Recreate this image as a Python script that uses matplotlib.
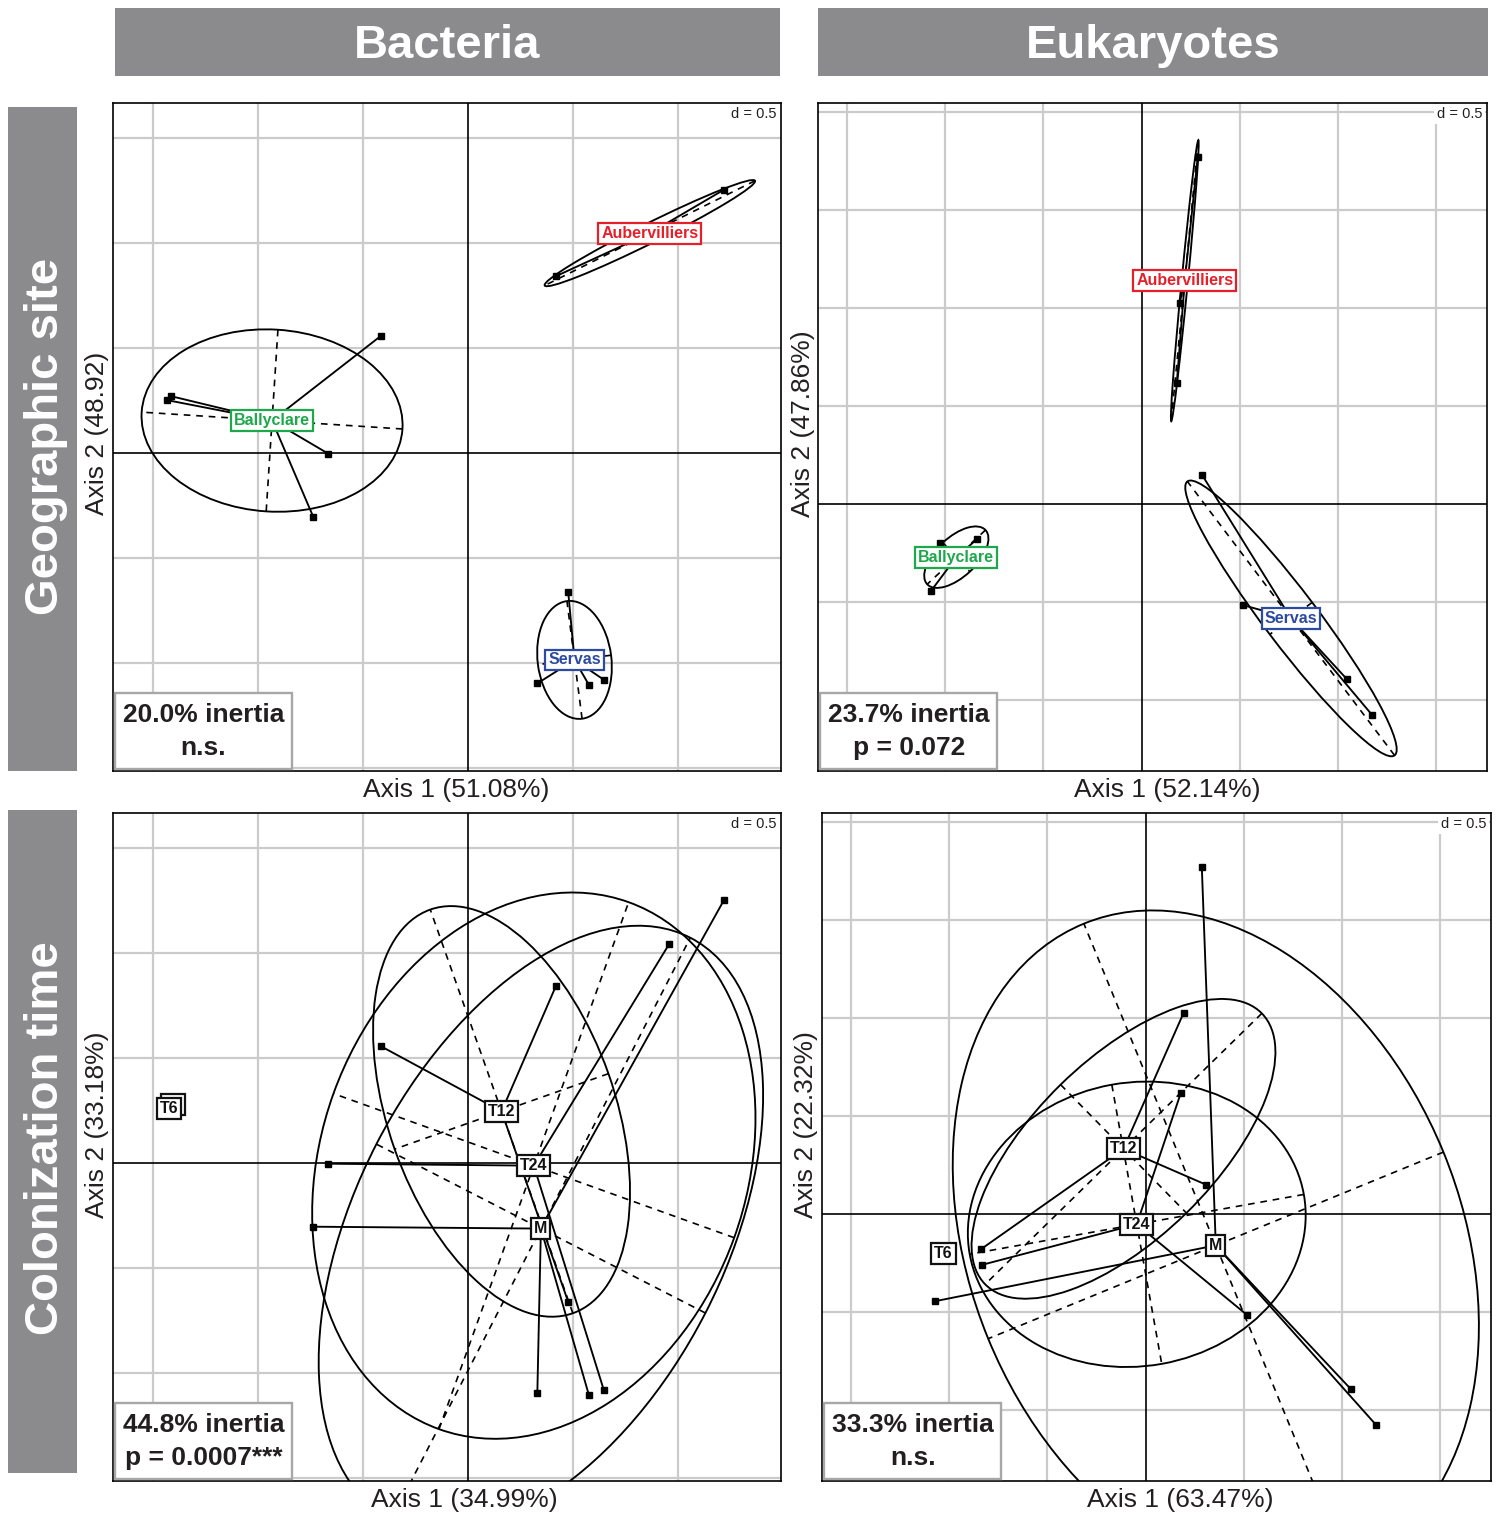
import numpy as np
import matplotlib
matplotlib.use('Agg')
import matplotlib.pyplot as plt
from matplotlib.patches import Ellipse, Rectangle

plt.rcParams['font.family'] = ['Liberation Sans', 'DejaVu Sans']

W, H = 1498, 1517

# sample scores on axis 1 / axis 2
bac_x = [-0.416, -1.414, -1.432, -0.665, -0.737, 1.220, 0.418, 0.959, 0.477, 0.330, 0.575, 0.646]
bac_y = [0.557, 0.271, 0.252, -0.003, -0.303, 1.255, 0.842, 1.045, -0.661, -1.097, -1.103, -1.079]
bac_site = ['Ballyclare'] * 5 + ['Aubervilliers'] * 3 + ['Servas'] * 4
bac_time = ['T12', 'T6', 'T6', 'T24', 'M', 'M', 'T12', 'T24', 'T12', 'M', 'M', 'T24']

euk_x = [0.287, 0.195, 0.180, -1.030, -0.840, -0.833, -1.075, 0.308, 0.519, 1.047, 1.175]
euk_y = [1.775, 1.030, 0.620, -0.198, -0.178, -0.257, -0.443, 0.152, -0.514, -0.891, -1.073]
euk_site = ['Aubervilliers'] * 3 + ['Ballyclare'] * 4 + ['Servas'] * 4
euk_time = ['M', 'T12', 'T24', 'T6', 'T12', 'T24', 'M', 'T12', 'T24', 'M', 'M']

site_names = ['Aubervilliers', 'Ballyclare', 'Servas']
site_colors = ['#E4212A', '#1EA84C', '#2C4A9F']
time_names = ['T6', 'T12', 'T24', 'M']
time_colors = ['#111111'] * 4

axis1_pct = ['51.08%', '52.14%', '34.99%', '63.47%']
axis2_pct = ['48.92', '47.86%', '33.18%', '22.32%']
inertia = ['20.0% inertia', '23.7% inertia', '44.8% inertia', '33.3% inertia']
signif = ['n.s.', 'p = 0.072', 'p = 0.0007***', 'n.s.']

GREY = '#8B8B8E'
TXT = '#231F20'

shadow_labels = []


def px_rect(x0, y0, x1, y1):
    return [x0 / W, 1 - y1 / H, (x1 - x0) / W, (y1 - y0) / H]


def draw_panel(ax, xs, ys, groups, names, colors, xlim, ylim, k, shadow=None):
    ax.set_xlim(xlim)
    ax.set_ylim(ylim)
    ax.set_xticks([])
    ax.set_yticks([])
    for sp in ax.spines.values():
        sp.set_linewidth(1.2)

    # grid every d = 0.5
    for g in np.arange(np.ceil(xlim[0] / 0.5), np.floor(xlim[1] / 0.5) + 1) * 0.5:
        if g != 0:
            ax.axvline(g, color='#CBCBCB', lw=1.6, zorder=1)
    for g in np.arange(np.ceil(ylim[0] / 0.5), np.floor(ylim[1] / 0.5) + 1) * 0.5:
        if g != 0:
            ax.axhline(g, color='#CBCBCB', lw=1.6, zorder=1)
    ax.axhline(0, color='black', lw=1.2, zorder=2)
    ax.axvline(0, color='black', lw=1.2, zorder=2)

    xs = np.asarray(xs)
    ys = np.asarray(ys)
    groups = np.asarray(groups)
    for name, col in zip(names, colors):
        m = groups == name
        pts = np.column_stack([xs[m], ys[m]])
        c = pts.mean(axis=0)
        if len(pts) > 1:
            d = pts - c
            cov = d.T @ d / len(pts)
            vals, vecs = np.linalg.eigh(cov)
            a = 1.5 * np.sqrt(max(vals[1], 0))
            b = 1.5 * np.sqrt(max(vals[0], 0))
            u = vecs[:, 1]
            v = vecs[:, 0]
            ang = np.degrees(np.arctan2(u[1], u[0]))
            ax.add_patch(Ellipse(c, 2 * a, 2 * b, angle=ang, fill=False,
                                 ec='black', lw=1.35, zorder=3))
            for vec, r in ((u, a), (v, b)):
                ax.plot([c[0] - r * vec[0], c[0] + r * vec[0]],
                        [c[1] - r * vec[1], c[1] + r * vec[1]],
                        color='black', lw=1.2, ls=(0, (4, 3.5)), zorder=3)
        for p in pts:
            ax.plot([c[0], p[0]], [c[1], p[1]], color='black', lw=1.35, zorder=3)
        ax.plot(pts[:, 0], pts[:, 1], 's', color='black', ms=3.8, zorder=4)

        box = dict(boxstyle='square,pad=0.18', fc='white', ec=col, lw=1.6)
        t = ax.text(c[0], c[1], name, ha='center', va='center', color=col,
                    fontsize=11.5, fontweight='bold', bbox=box, zorder=5)
        if shadow is not None and name == shadow:
            shadow_labels.append(t)

    ax.text(0.993, 0.994, 'd = 0.5', transform=ax.transAxes, ha='right', va='top',
            fontsize=10.5, color=TXT, zorder=6,
            bbox=dict(boxstyle='square,pad=0.2', fc='white', ec='none'))

    bw, bh = 177 / 668, 76 / 668
    ax.add_patch(Rectangle((0.003, 0.003), bw, bh, transform=ax.transAxes,
                           fc='white', ec='#A7A7A7', lw=1.7, zorder=7))
    ax.text(0.003 + bw / 2, 0.084, inertia[k], transform=ax.transAxes, ha='center',
            va='center', fontsize=19, fontweight='bold', color=TXT, zorder=8)
    ax.text(0.003 + bw / 2, 0.035, signif[k], transform=ax.transAxes, ha='center',
            va='center', fontsize=19, fontweight='bold', color=TXT, zorder=8)


fig = plt.figure(figsize=(W / 100, H / 100), dpi=100)

bac_xlim = (-1.690, 1.490)
bac_ylim = (-1.514, 1.667)
euk_xlim = (-1.650, 1.762)
euk_ylim = (-1.360, 2.048)

ax1 = fig.add_axes(px_rect(113, 103, 781, 771))
ax2 = fig.add_axes(px_rect(818, 103, 1487, 771))
ax3 = fig.add_axes(px_rect(113, 813, 781, 1481))
ax4 = fig.add_axes(px_rect(822, 813, 1491, 1481))

draw_panel(ax1, bac_x, bac_y, bac_site, site_names, site_colors, bac_xlim, bac_ylim, 0)
draw_panel(ax2, euk_x, euk_y, euk_site, site_names, site_colors, euk_xlim, euk_ylim, 1)
draw_panel(ax3, bac_x, bac_y, bac_time, time_names, time_colors, bac_xlim, bac_ylim, 2, shadow='T6')
draw_panel(ax4, euk_x, euk_y, euk_time, time_names, time_colors, euk_xlim, euk_ylim, 3)

# second (stacked) box behind the T6 label, as in the original
fig.canvas.draw()
renderer = fig.canvas.get_renderer()
for t in shadow_labels:
    bb = t.get_bbox_patch().get_window_extent(renderer)
    r = Rectangle(((bb.x0 + 4) / W, (bb.y0 + 4) / H), bb.width / W, bb.height / H,
                  transform=fig.transFigure, fc='white', ec='#111111', lw=1.6, zorder=4.5)
    t.axes.add_artist(r)

# axis titles
xl_pos = [(456, 790), (1167, 790), (464, 1500), (1180, 1500)]
yl_pos = [(97, 433), (803, 424), (97, 1125), (806, 1125)]
for i in range(4):
    fig.text(xl_pos[i][0] / W, 1 - xl_pos[i][1] / H, 'Axis 1 (%s)' % axis1_pct[i],
             ha='center', va='center', fontsize=19, color=TXT)
    fig.text(yl_pos[i][0] / W, 1 - yl_pos[i][1] / H, 'Axis 2 (%s)' % axis2_pct[i],
             ha='center', va='center', rotation=90, fontsize=19, color=TXT)

# header strips
for (x0, y0, x1, y1), lab in [((115, 8, 780, 76), 'Bacteria'), ((818, 8, 1488, 76), 'Eukaryotes')]:
    fig.add_artist(Rectangle((x0 / W, 1 - y1 / H), (x1 - x0) / W, (y1 - y0) / H,
                             transform=fig.transFigure, fc=GREY, ec='none'))
    fig.text((x0 + x1) / 2 / W, 1 - ((y0 + y1) / 2 + 4) / H, lab, ha='center', va='center',
             color='white', fontsize=34, fontweight='bold')

for (x0, y0, x1, y1), lab in [((8, 107, 77, 771), 'Geographic site'), ((8, 810, 77, 1473), 'Colonization time')]:
    fig.add_artist(Rectangle((x0 / W, 1 - y1 / H), (x1 - x0) / W, (y1 - y0) / H,
                             transform=fig.transFigure, fc=GREY, ec='none'))
    fig.text(((x0 + x1) / 2 + 4) / W, 1 - (y0 + y1 - 6) / 2 / H, lab, ha='center', va='center',
             rotation=90, color='white', fontsize=34, fontweight='bold')

fig.savefig('out.png', dpi=100)
